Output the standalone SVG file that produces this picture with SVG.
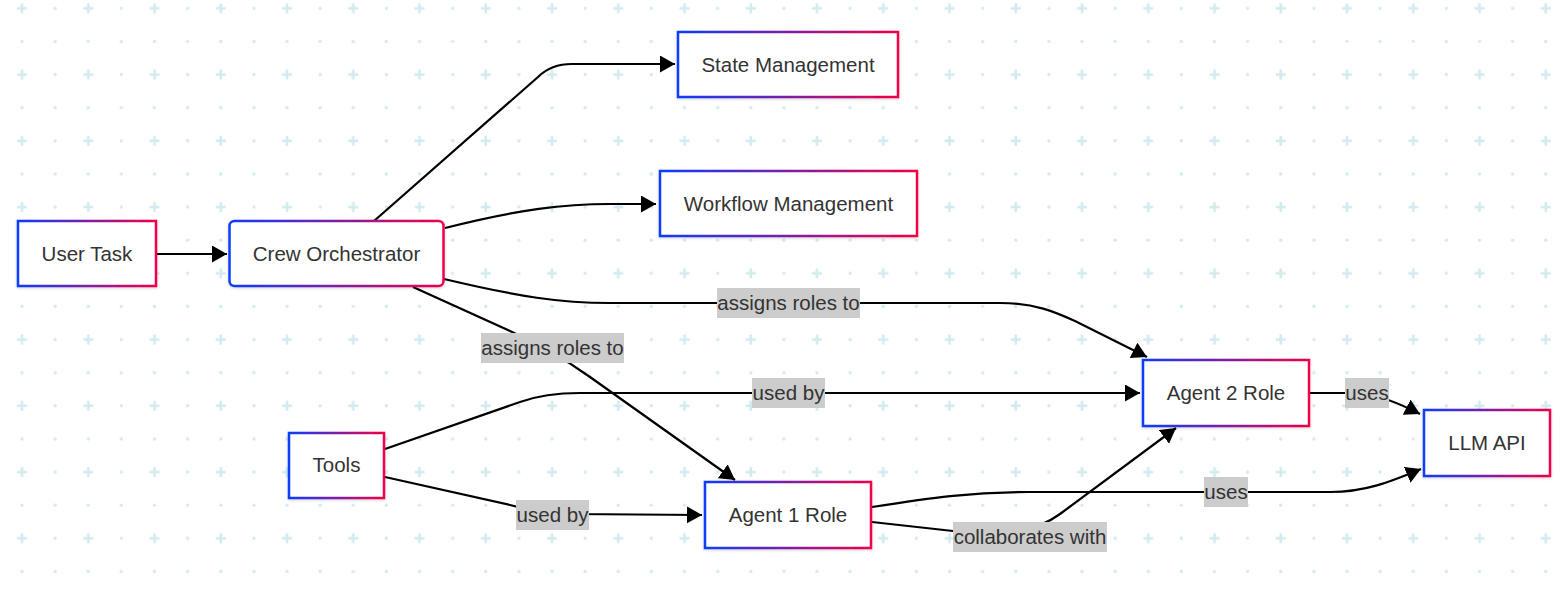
<svg xmlns="http://www.w3.org/2000/svg" width="1563" height="593" viewBox="0 0 1563 593">
<defs>
<style>
.node rect{fill:#ffffff;stroke:url(#grad);stroke-width:2.5;filter:url(#shadow)}
.node text{font-family:"Liberation Sans",Arial,sans-serif;font-size:20.5px;fill:#333333;text-anchor:middle}
.edge{fill:none;stroke:#000000;stroke-width:2.2;marker-end:url(#arrow)}
.lbl rect{fill:#cccccc}
.lbl text{font-family:"Liberation Sans",Arial,sans-serif;font-size:20.5px;fill:#333333;text-anchor:middle}
.bgc{fill:#d3ebef}
</style>
<linearGradient id="grad" x1="0" y1="0" x2="1" y2="0">
<stop offset="0" stop-color="#0a3cff"/>
<stop offset="1" stop-color="#f20047"/>
</linearGradient>
<filter id="shadow" x="-10%" y="-20%" width="120%" height="140%">
<feDropShadow dx="0" dy="1" stdDeviation="1.5" flood-color="#000" flood-opacity="0.18"/>
</filter>
<marker id="arrow" markerUnits="userSpaceOnUse" markerWidth="16" markerHeight="18" refX="15" refY="8.5" orient="auto">
<path d="M0,0 L15,8.5 L0,17 z" fill="#000"/>
</marker>
<pattern id="bg" patternUnits="userSpaceOnUse" x="5.44" y="-8.26" width="66.25" height="66.25">
<rect class="bgc" x="11.56" y="15.3" width="10" height="2.6"/>
<rect class="bgc" x="15.3" y="11.56" width="2.6" height="10"/>
<circle class="bgc" cx="49.69" cy="16.56" r="1.7"/>
<circle class="bgc" cx="16.56" cy="49.69" r="1.7"/>
<circle class="bgc" cx="49.69" cy="49.69" r="1.7"/>
</pattern>
</defs>
<rect width="1563" height="593" fill="#ffffff"/>
<rect width="1563" height="593" fill="url(#bg)"/>

<g id="connectors">
<path class="edge" d="M157,254 L227,254"/>
<path class="edge" d="M374,221 L538,77 Q551,64 572,64 L675,64"/>
<path class="edge" d="M445,228 C520,209 565,204 610,204 L656,204"/>
<path class="edge" d="M444,279 C520,297 560,303 610,303 L1000,303 C1035,303 1055,312 1075,321 L1147,357"/>
<path class="edge" d="M413,287 L510,331 Q552,350 590,377 L735,480"/>
<path class="edge" d="M385,449 L520,402 Q545,393 580,393 L1140,393"/>
<path class="edge" d="M385,477 L510,505 Q535,512 570,514 L702,515"/>
<path class="edge" d="M1310,393 L1360,393 Q1385,396 1420,414"/>
<path class="edge" d="M872,507 C930,498 970,492 1030,492 L1330,492 C1365,492 1390,482 1421,469"/>
<path class="edge" d="M872,522 L980,534 Q1030,536 1060,514 L1176,428"/>
</g>

<g id="edge-labels">
<g class="lbl"><rect x="717" y="288" width="143" height="30"/><text x="788.5" y="310.3">assigns roles to</text></g>
<g class="lbl"><rect x="481" y="333" width="143" height="30"/><text x="552.5" y="355.3">assigns roles to</text></g>
<g class="lbl"><rect x="752" y="378" width="73" height="30"/><text x="788.5" y="400.3">used by</text></g>
<g class="lbl"><rect x="516" y="500" width="73" height="30"/><text x="552.5" y="522.3">used by</text></g>
<g class="lbl"><rect x="1345" y="378" width="44" height="30"/><text x="1367" y="400.3">uses</text></g>
<g class="lbl"><rect x="1204" y="477" width="44" height="30"/><text x="1226" y="499.3">uses</text></g>
<g class="lbl"><rect x="953" y="522" width="154" height="30"/><text x="1030" y="544.3">collaborates with</text></g>
</g>

<g id="node-user-task" class="node"><rect x="18" y="221" width="138" height="65"/><text x="87" y="261.3">User Task</text></g>
<g id="node-crew-orchestrator" class="node"><rect x="229.5" y="221" width="214" height="65" rx="5"/><text x="336.5" y="261.3">Crew Orchestrator</text></g>
<g id="node-state-management" class="node"><rect x="678" y="32" width="220" height="65"/><text x="788" y="71.8">State Management</text></g>
<g id="node-workflow-management" class="node"><rect x="660" y="171" width="257" height="65"/><text x="788.5" y="211.3">Workflow Management</text></g>
<g id="node-tools" class="node"><rect x="289" y="433" width="95" height="65"/><text x="336.5" y="472.3">Tools</text></g>
<g id="node-agent-1" class="node"><rect x="705" y="482" width="166" height="66"/><text x="788" y="522.3">Agent 1 Role</text></g>
<g id="node-agent-2" class="node"><rect x="1143" y="360" width="166" height="66"/><text x="1226" y="400.3">Agent 2 Role</text></g>
<g id="node-llm-api" class="node"><rect x="1424" y="410" width="126" height="66"/><text x="1487" y="450.3">LLM API</text></g>
</svg>
